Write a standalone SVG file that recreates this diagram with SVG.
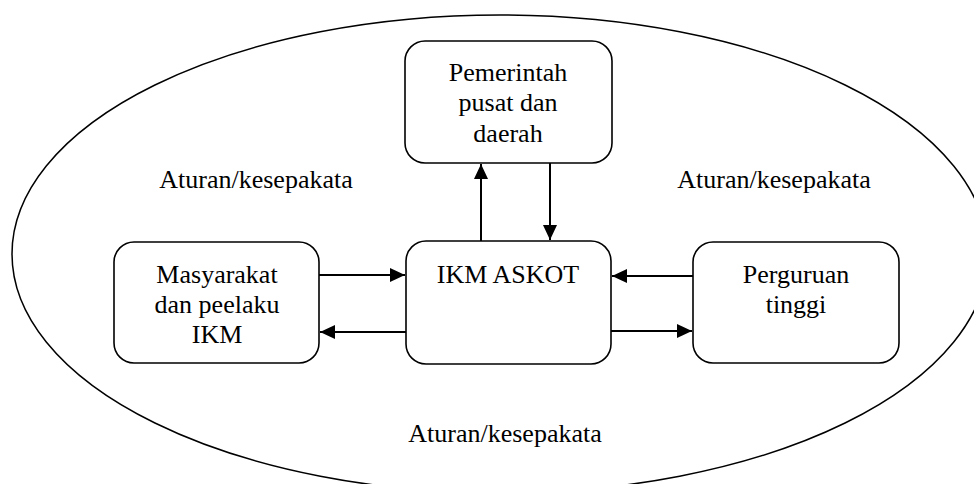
<svg xmlns="http://www.w3.org/2000/svg" width="974" height="484" viewBox="0 0 974 484">
  <style>
    .box { fill: #ffffff; stroke: #000000; stroke-width: 1.6; }
    .lbl { font-family: "Liberation Serif", "Times New Roman", Tinos, serif; font-size: 26px; fill: #000000; text-anchor: middle; }
    .conn { stroke: #000000; stroke-width: 2; fill: none; marker-end: url(#arrow); }
  </style>
  <defs>
    <marker id="arrow" markerUnits="userSpaceOnUse" markerWidth="16" markerHeight="14" refX="15" refY="7" orient="auto">
      <path d="M0,0 L15,7 L0,14 z" fill="#000000"/>
    </marker>
  </defs>
  <rect x="0" y="0" width="974" height="484" fill="#ffffff"/>

  <g id="boundary">
    <ellipse cx="500" cy="254" rx="488" ry="239" fill="none" stroke="#000000" stroke-width="1.5"/>
    <text class="lbl" x="256" y="188">Aturan/kesepakata</text>
    <text class="lbl" x="774" y="188">Aturan/kesepakata</text>
    <text class="lbl" x="505" y="442">Aturan/kesepakata</text>
  </g>

  <g id="connectors">
    <line class="conn" x1="481" y1="241" x2="481" y2="164"/>
    <line class="conn" x1="550" y1="163" x2="550" y2="240"/>
    <line class="conn" x1="319" y1="275" x2="405" y2="275"/>
    <line class="conn" x1="406" y1="332" x2="320" y2="332"/>
    <line class="conn" x1="693" y1="276" x2="612" y2="276"/>
    <line class="conn" x1="611" y1="331" x2="692" y2="331"/>
  </g>

  <g id="node-pemerintah">
    <rect class="box" x="405" y="41" width="207" height="122" rx="20" ry="20"/>
    <text class="lbl" x="508" y="81">Pemerintah</text>
    <text class="lbl" x="508" y="111">pusat dan</text>
    <text class="lbl" x="508" y="142">daerah</text>
  </g>

  <g id="node-ikm-askot">
    <rect class="box" x="406" y="241" width="205" height="123" rx="20" ry="20"/>
    <text class="lbl" x="508" y="283">IKM ASKOT</text>
  </g>

  <g id="node-masyarakat">
    <rect class="box" x="114" y="242" width="205" height="121" rx="20" ry="20"/>
    <text class="lbl" x="217" y="283">Masyarakat</text>
    <text class="lbl" x="217" y="313">dan peelaku</text>
    <text class="lbl" x="217" y="343">IKM</text>
  </g>

  <g id="node-perguruan">
    <rect class="box" x="693" y="242" width="206" height="121" rx="20" ry="20"/>
    <text class="lbl" x="796" y="283">Perguruan</text>
    <text class="lbl" x="796" y="313">tinggi</text>
  </g>
</svg>
